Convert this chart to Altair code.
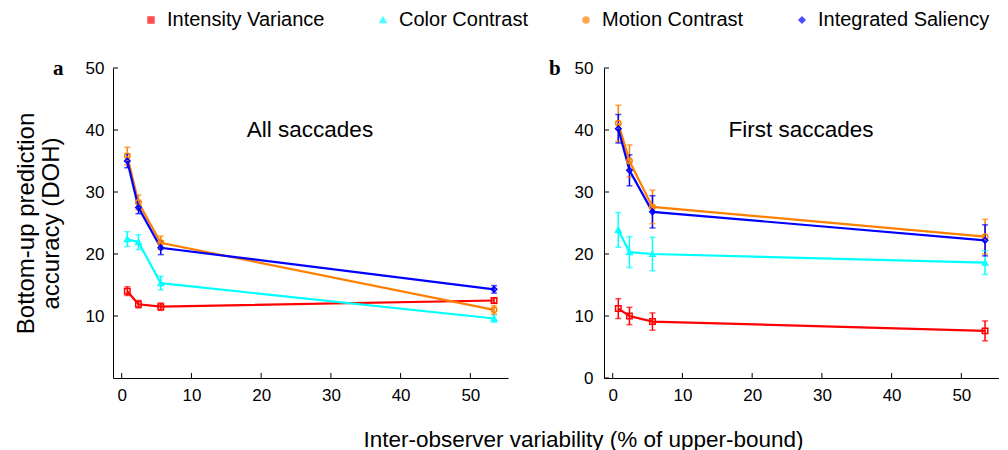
import altair as alt
import pandas as pd

series = ["Intensity Variance", "Color Contrast", "Motion Contrast", "Integrated Saliency"]
colors = ["#ff0000", "#00ffff", "#ff8000", "#0000ff"]
shapes = ["square", "triangle-up", "circle", "diamond"]

# Panel a (All saccades)
x_a = [0.8, 2.4, 5.6, 53.4]
intensity_a = [14.0, 11.9, 11.5, 12.5]
intensity_a_err = [0.7, 0.6, 0.6, 0.4]
color_a = [22.4, 21.9, 15.3, 9.6]
color_a_err = [1.2, 1.2, 1.1, 0.6]
motion_a = [35.8, 28.3, 21.8, 11.0]
motion_a_err = [1.4, 1.2, 1.1, 0.7]
integrated_a = [35.0, 27.5, 21.0, 14.3]
integrated_a_err = [1.1, 1.0, 1.1, 0.6]

# Panel b (First saccades)
x_b = [0.8, 2.4, 5.7, 53.4]
intensity_b = [11.2, 10.0, 9.1, 7.6]
intensity_b_err = [1.6, 1.4, 1.4, 1.6]
color_b = [23.9, 20.3, 20.0, 18.6]
color_b_err = [2.8, 2.5, 2.7, 1.9]
motion_b = [41.1, 35.0, 27.6, 22.8]
motion_b_err = [2.9, 2.6, 2.7, 2.8]
integrated_b = [40.2, 33.5, 26.8, 22.2]
integrated_b_err = [2.3, 2.5, 2.6, 2.5]

x_ticks = [0, 10, 20, 30, 40, 50]
y_ticks_a = [10, 20, 30, 40, 50]
y_ticks_b = [0, 10, 20, 30, 40, 50]

FONT = "Liberation Sans"


def make_df(xs, vals, errs):
    rows = []
    for k, (s, v, e) in enumerate(zip(series, vals, errs)):
        for x, vi, ei in zip(xs, v, e):
            rows.append(dict(series=s, order=k, x=x, y=vi, lo=vi - ei, hi=vi + ei))
    return pd.DataFrame(rows)


df_a = make_df(x_a, [intensity_a, color_a, motion_a, integrated_a],
               [intensity_a_err, color_a_err, motion_a_err, integrated_a_err])
df_b = make_df(x_b, [intensity_b, color_b, motion_b, integrated_b],
               [intensity_b_err, color_b_err, motion_b_err, integrated_b_err])

legend = alt.Legend(
    title=None, orient="none", direction="horizontal",
    legendX=28, legendY=-58, padding=0,
    labelFont=FONT, labelFontSize=20, labelColor="black", labelLimit=400,
    symbolSize=34, symbolStrokeWidth=1.6, labelOffset=6,
    columnPadding=48,
)
color_enc = alt.Color("series:N", scale=alt.Scale(domain=series, range=colors),
                      sort=series, legend=legend)
shape_enc = alt.Shape("series:N", scale=alt.Scale(domain=series, range=shapes),
                      sort=series, legend=legend)

W, H = 395, 310


def panel(df, yticks, note, letter, first):
    xscale = alt.Scale(domain=[-1.25, 55.4], nice=False, zero=False)
    yscale = alt.Scale(domain=[0, 50], nice=False, zero=False)
    if first:
        xaxis = alt.Axis(values=x_ticks, ticks=False, grid=False, labelPadding=9,
                         title="Inter-observer variability (% of upper-bound)",
                         titleX=470, titleY=68, titleAlign="center",
                         titleBaseline="alphabetic", titleFont=FONT,
                         titleFontSize=22.5, titleFontWeight="normal", titleColor="black")
        yaxis = alt.Axis(values=yticks, ticks=False, grid=False, labelPadding=9,
                         title=["Bottom-up prediction", "accuracy (DOH)"],
                         titleFont=FONT, titleFontSize=24, titleFontWeight="normal",
                         titleColor="black", titlePadding=22, titleLineHeight=25)
    else:
        xaxis = alt.Axis(values=x_ticks, ticks=False, grid=False, labelPadding=9, title=None)
        yaxis = alt.Axis(values=yticks, ticks=False, grid=False, labelPadding=11, title=None)
    X = alt.X("x:Q", scale=xscale, axis=xaxis)
    Y = alt.Y("y:Q", scale=yscale, axis=yaxis)

    base = alt.Chart(df)
    bars = base.mark_rule(strokeWidth=1.5).encode(
        x=X, y=alt.Y("lo:Q", scale=yscale), y2="hi:Q", color=color_enc)
    caps = base.transform_fold(["lo", "hi"], as_=["k", "y"]).mark_tick(
        orient="horizontal", size=6, thickness=1.5).encode(
        x=X, y=Y, color=color_enc)
    lines = base.mark_line(strokeWidth=2.2).encode(
        x=X, y=Y, color=color_enc, detail="series:N", order="x:Q")
    pts = base.mark_point(filled=False, size=30, strokeWidth=1.5, opacity=1).encode(
        x=X, y=Y, color=color_enc, shape=shape_enc)

    xt = alt.Chart(pd.DataFrame({"x": x_ticks})).mark_rule(color="black", strokeWidth=1).encode(
        x=X, y=alt.value(H), y2=alt.value(H - 5))
    yt = alt.Chart(pd.DataFrame({"y": yticks})).mark_rule(color="black", strokeWidth=1).encode(
        y=Y, x=alt.value(0), x2=alt.value(5))
    txt = alt.Chart(pd.DataFrame({"x": [27], "y": [40], "t": [note]})).mark_text(
        font=FONT, fontSize=22.5, color="black", baseline="middle", align="center").encode(
        x=X, y=Y, text="t:N")

    return alt.layer(bars, caps, lines, pts, xt, yt, txt).properties(
        width=W, height=H,
        title=alt.TitleParams(letter, anchor="start", frame="group", font="Liberation Serif",
                              fontSize=21, fontWeight="bold", color="black",
                              dx=-60 if first else -55, dy=37, offset=0,
                              baseline="alphabetic"),
    )


pa = panel(df_a, y_ticks_a, "All saccades", "a", True)
pb = panel(df_b, y_ticks_b, "First saccades", "b", False)

chart = alt.hconcat(pa, pb, spacing=96, bounds="flush").properties(
    padding={"left": 6, "top": 2, "right": 0, "bottom": 0}
).configure_view(stroke=None).configure_axis(
    domainColor="black", domainWidth=1, labelColor="black", labelFont=FONT, labelFontSize=17
)

chart.save("out.html", embed_options={"renderer": "svg", "actions": False})
